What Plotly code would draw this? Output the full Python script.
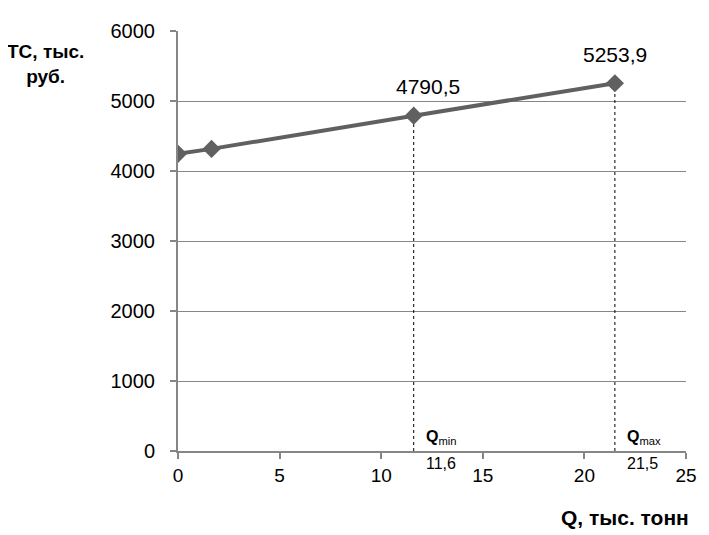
import plotly.graph_objects as go

q_values = [0, 1.65, 11.6, 21.5]
tc_values = [4245, 4316, 4790.5, 5253.9]
label_points = [(11.6, 4790.5, "4790,5"), (21.5, 5253.9, "5253,9")]
marker_q = [("Q", "min", 11.6, "11,6"), ("Q", "max", 21.5, "21,5")]

FONT = "Liberation Sans, Arial, sans-serif"
OFF = 8  # page body offset
fig = go.Figure()

# dotted drop lines
for x, y, _ in label_points:
    fig.add_trace(go.Scatter(x=[x, x], y=[0, y], mode="lines",
                             line=dict(color="black", width=1, dash="dot"),
                             hoverinfo="skip", showlegend=False))

fig.add_trace(go.Scatter(x=q_values, y=tc_values, mode="lines+markers",
                         line=dict(color="#606060", width=4),
                         marker=dict(symbol="diamond", size=14, color="#606060"),
                         showlegend=False))

annotations = []
shifts = [14, 0]
for (x, y, t), s in zip(label_points, shifts):
    annotations.append(dict(x=x, y=y, text=t, showarrow=False, xref="x", yref="y",
                            yshift=29, xshift=s, font=dict(family=FONT, size=21, color="black")))
for q, sub, x, t in marker_q:
    annotations.append(dict(x=x, y=0, xref="x", yref="y", text=f"<b>{q}</b><sub>{sub}</sub>",
                            showarrow=False, xanchor="left", yanchor="bottom", xshift=10, yshift=2,
                            font=dict(family=FONT, size=16, color="black")))
    annotations.append(dict(x=x, y=0, xref="x", yref="y", text=t,
                            showarrow=False, xanchor="left", yanchor="top", xshift=10, yshift=-2,
                            font=dict(family=FONT, size=16, color="black")))

W, H = 709, 535
ml, mr, mt, mb = 178 - OFF, 23 + OFF, 27 - OFF, 84 + OFF

def paper(px, py):
    # window pixel coords -> paper fractions
    fx = px - OFF
    fy = H - (py - OFF)
    return (fx - ml) / (W - ml - mr), (fy - mb) / (H - mt - mb)

px, py = paper(45, 60)
annotations.append(dict(x=px, y=py, xref="paper", yref="paper", text="<b>TC, тыс.<br>руб.</b>",
                        xanchor="center", yanchor="middle",
                        showarrow=False, font=dict(family=FONT, size=19, color="black")))
px, py = paper(625, 518)
annotations.append(dict(x=px, y=py, xref="paper", yref="paper", text="<b>Q, тыс. тонн</b>",
                        xanchor="center", yanchor="middle",
                        showarrow=False, font=dict(family=FONT, size=21, color="black")))

fig.update_layout(
    width=W, height=H,
    margin=dict(l=ml, r=mr, t=mt, b=mb),
    plot_bgcolor="white", paper_bgcolor="white",
    font=dict(family=FONT, size=20, color="black"),
    annotations=annotations,
    xaxis=dict(range=[0, 25], tickvals=[0, 5, 10, 15, 20, 25], showgrid=False,
               zeroline=False, showline=True, linecolor="#868686", linewidth=2,
               ticks="outside", ticklen=6, tickcolor="#868686", tickwidth=2,
               tickfont=dict(size=19)),
    yaxis=dict(range=[0, 6000], tickvals=[0, 1000, 2000, 3000, 4000, 5000, 6000],
               showgrid=True, gridcolor="#868686", gridwidth=1, zeroline=False,
               showline=True, linecolor="#868686", linewidth=2,
               ticks="outside", ticklen=6, tickcolor="#868686", tickwidth=2,
               ticklabelstandoff=11, tickfont=dict(size=20)),
)
fig.write_html("out.html")
